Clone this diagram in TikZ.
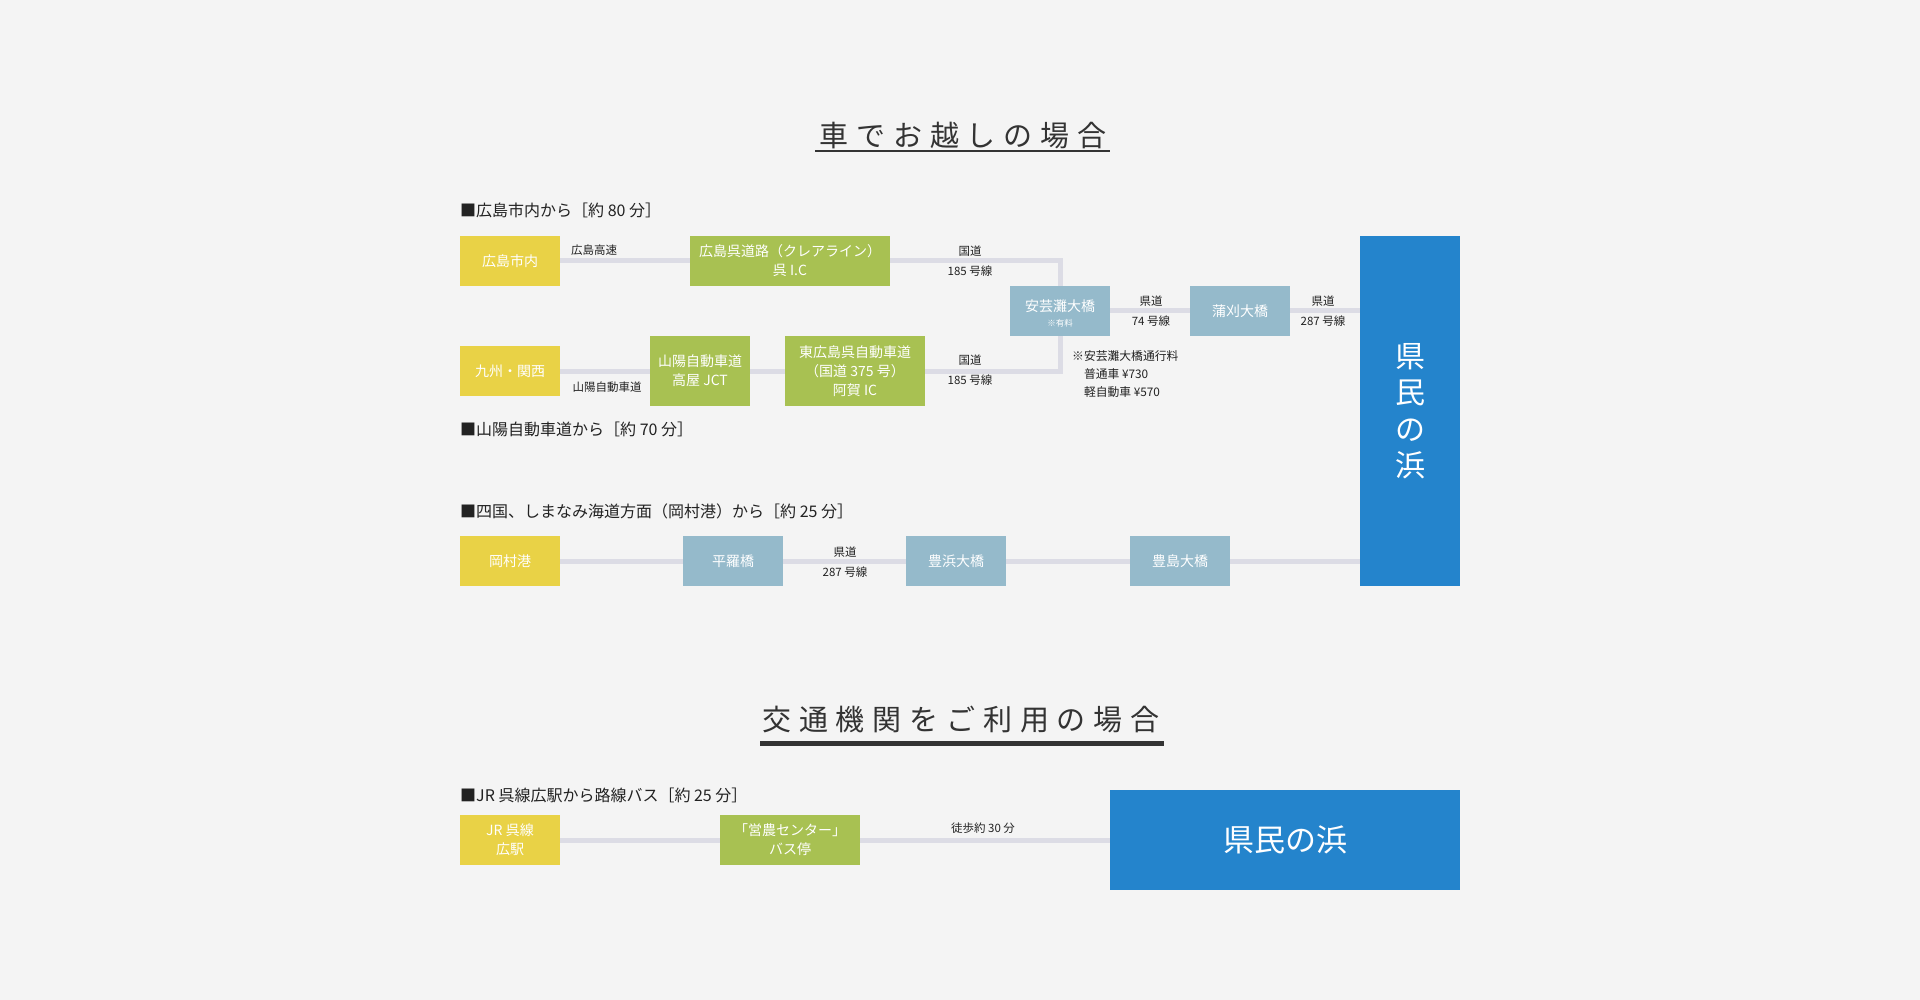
\documentclass[tikz,border=0pt]{standalone}
\usepackage{fontspec}
\setmainfont{Noto Sans CJK JP}
\newfontfamily\titlefont[LetterSpace=27]{Noto Sans CJK JP}
\definecolor{bgc}{HTML}{F4F4F4}
\definecolor{cyellow}{HTML}{E9D246}
\definecolor{cgreen}{HTML}{A8C152}
\definecolor{cgray}{HTML}{95BACB}
\definecolor{cblue}{HTML}{2484CC}
\definecolor{cline}{HTML}{DCDCE5}
\definecolor{ctext}{HTML}{222222}
\definecolor{ctitle}{HTML}{333333}
\begin{document}
\begin{tikzpicture}[x=1pt,y=-1pt,
  box/.style={inner sep=0pt, text=white, align=center, font=\fontsize{14}{19}\selectfont},
  ybox/.style={box, fill=cyellow},
  gbox/.style={box, fill=cgreen},
  bbox/.style={box, fill=cgray},
  kbox/.style={box, fill=cblue},
  road/.style={draw=cline, line width=5pt},
  lbl/.style={text=ctext, align=center, inner sep=0pt, font=\fontsize{11.5}{20}\selectfont},
  head/.style={anchor=west, text=ctext, inner sep=0pt, font=\fontsize{16}{18}\selectfont},
  ttl/.style={text=ctitle, inner sep=0pt, font=\titlefont\fontsize{29}{34}\selectfont},
]
\fill[bgc] (0,0) rectangle (1920,1000);
\useasboundingbox (0,0) rectangle (1920,1000);

% titles
\node[ttl] (t1) at (963,135.5) {車でお越しの場合};
\draw[ctitle, line width=2pt] (815,151) -- (1110,151);
\node[ttl] (t2) at (961,720) {交通機関をご利用の場合};
\draw[ctitle, line width=4.5pt] (760,743.5) -- (1164,743.5);

% headers
\node[head] (h1) at (460,210) {■広島市内から［約 80 分］};
\node[head] (h2) at (460,429) {■山陽自動車道から［約 70 分］};
\node[head] (h3) at (460,511) {■四国、しまなみ海道方面（岡村港）から［約 25 分］};
\node[head] (h4) at (460,795) {■JR 呉線広駅から路線バス［約 25 分］};

% boxes, section 1
\node[ybox, minimum width=100pt, minimum height=50pt] (hs) at (510,261) {広島市内};
\node[gbox, minimum width=200pt, minimum height=50pt] (kure) at (790,261) {広島呉道路（クレアライン）\\呉 I.C};
\node[ybox, minimum width=100pt, minimum height=50pt] (kyushu) at (510,371) {九州・関西};
\node[gbox, minimum width=100pt, minimum height=70pt] (sanyo) at (700,371) {山陽自動車道\\高屋 JCT};
\node[gbox, minimum width=140pt, minimum height=70pt] (higashi) at (855,371) {東広島呉自動車道\\（国道 375 号）\\阿賀 IC};
\node[bbox, minimum width=100pt, minimum height=50pt] (akinada) at (1060,311) {};
\node[box] (akinadat) at (1060,306.5) {安芸灘大橋};
\node[box, font=\fontsize{8.5}{10}\selectfont] (akinadan) at (1060,323) {※有料};
\node[bbox, minimum width=100pt, minimum height=50pt] (kamagari) at (1240,311) {蒲刈大橋};
\node[kbox, minimum width=100pt, minimum height=350pt, font=\fontsize{30}{36.5}\selectfont] (kenmin) at (1410,411) {県\\民\\の\\浜};

% boxes, section 3
\node[ybox, minimum width=100pt, minimum height=50pt] (okamura) at (510,561) {岡村港};
\node[bbox, minimum width=100pt, minimum height=50pt] (hirara) at (733,561) {平羅橋};
\node[bbox, minimum width=100pt, minimum height=50pt] (toyohama) at (956,561) {豊浜大橋};
\node[bbox, minimum width=100pt, minimum height=50pt] (toyoshima) at (1180,561) {豊島大橋};

% boxes, section 4
\node[ybox, minimum width=100pt, minimum height=50pt] (jr) at (510,840) {JR 呉線\\広駅};
\node[gbox, minimum width=140pt, minimum height=50pt] (einou) at (790,840) {「営農センター」\\バス停};
\node[kbox, minimum width=350pt, minimum height=100pt, font=\fontsize{31}{36}\selectfont] (kenmin2) at (1285,840) {県民の浜};

% connectors
\draw[road] (hs) -- (kure);
\draw[road] (kure.east) -| (akinada.north);
\draw[road] (kyushu) -- (sanyo);
\draw[road] (sanyo) -- (higashi);
\draw[road] (higashi.east) -| (akinada.south);
\draw[road] (akinada) -- (kamagari);
\draw[road] (kamagari.east) -- (kamagari.east -| kenmin.west);
\draw[road] (okamura) -- (hirara);
\draw[road] (hirara) -- (toyohama);
\draw[road] (toyohama) -- (toyoshima);
\draw[road] (toyoshima.east) -- (toyoshima.east -| kenmin.west);
\draw[road] (jr) -- (einou);
\draw[road] (einou) -- (kenmin2);

% labels
\node[lbl] (l1) at (594,250) {広島高速};
\node[lbl] (l2) at (970,261) {国道\\185 号線};
\node[lbl] (l3) at (607,387) {山陽自動車道};
\node[lbl] (l4) at (970,370.5) {国道\\185 号線};
\node[lbl] (l5) at (1151,311) {県道\\74 号線};
\node[lbl] (l6) at (1323,311) {県道\\287 号線};
\node[lbl, anchor=west, align=left, font=\fontsize{11.8}{18}\selectfont] (note) at (1072,374) {※安芸灘大橋通行料\\\phantom{※}普通車 ¥730\\\phantom{※}軽自動車 ¥570};
\node[lbl] (l7) at (845,562) {県道\\287 号線};
\node[lbl] (l8) at (983,828) {徒歩約 30 分};
\end{tikzpicture}
\end{document}
